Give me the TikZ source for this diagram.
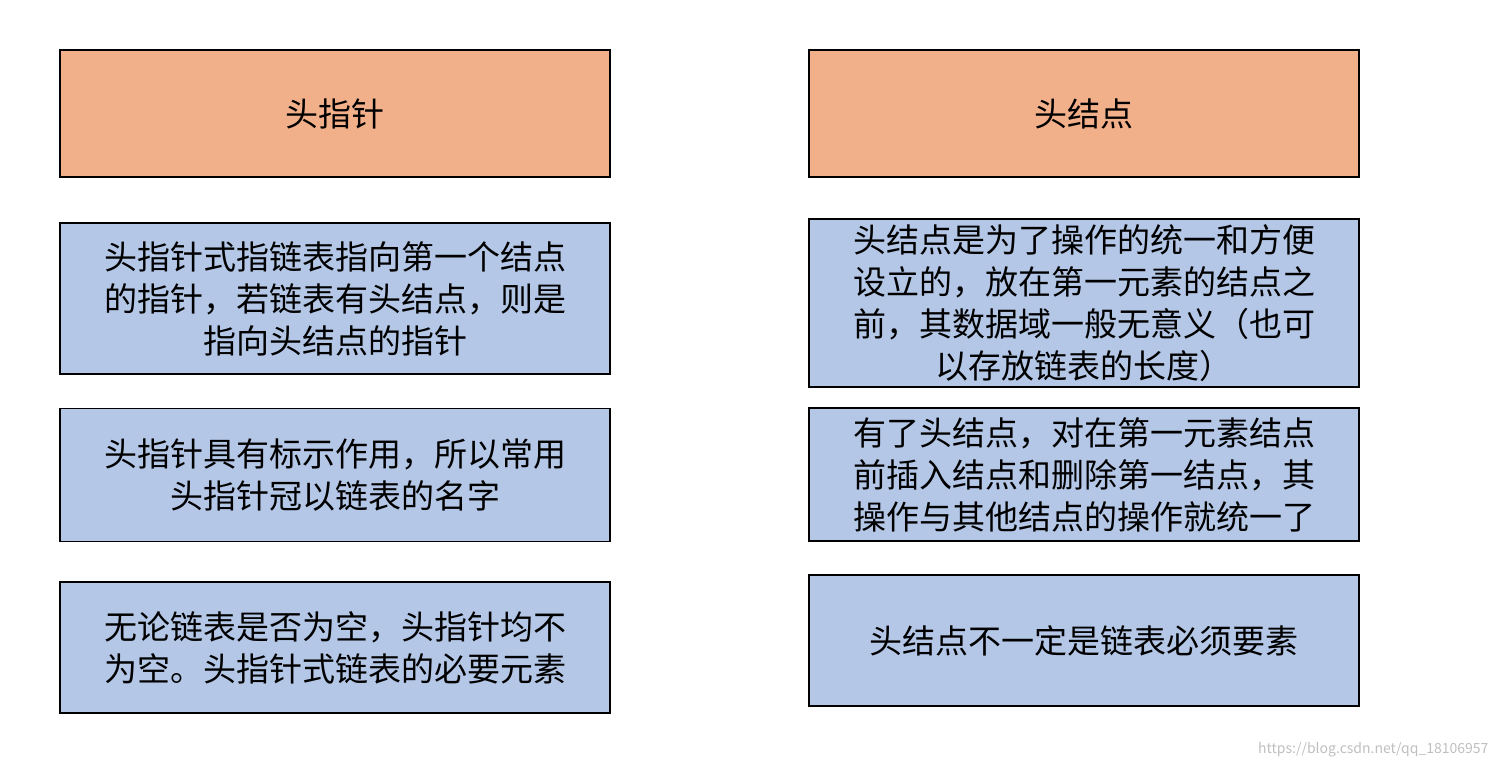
\documentclass[tikz,border=0pt]{standalone}
\usepackage{fontspec}
\setmainfont{Noto Sans CJK SC}
\begin{document}
\begin{tikzpicture}[x=1pt,y=-1pt,
 box/.style={draw=black,line width=1.3pt,minimum width=550pt,inner sep=0pt},
 hd/.style={box,fill={rgb,255:red,242;green,176;blue,138}},
 bd/.style={box,fill={rgb,255:red,180;green,199;blue,231}},
 tx/.style={font=\fontsize{33}{42}\selectfont,align=center}]
\useasboundingbox (0,0) rectangle (1498,768);
\node[hd,minimum height=127pt] (h1) at (335,113.5) {};
\node[tx] (h1t) at (h1) {头指针};
\node[hd,minimum height=127pt] (h2) at (1084,113.5) {};
\node[tx] (h2t) at (h2) {头结点};
\node[bd,minimum height=151pt] (l2) at (335,298.5) {};
\node[tx] (l2t) at (l2) {头指针式指链表指向第一个结点\\的指针，若链表有头结点，则是\\指向头结点的指针};
\node[bd,minimum height=133pt] (l3) at (335,475) {};
\node[tx] (l3t) at (l3) {头指针具有标示作用，所以常用\\头指针冠以链表的名字};
\node[bd,minimum height=131pt] (l4) at (335,647.5) {};
\node[tx] (l4t) at (l4) {无论链表是否为空，头指针均不\\为空。头指针式链表的必要元素};
\node[bd,minimum height=168pt] (r2) at (1084,303) {};
\node[tx] (r2t) at (1084,303) {头结点是为了操作的统一和方便\\设立的，放在第一元素的结点之\\前，其数据域一般无意义（也可\\以存放链表的长度）};
\node[bd,minimum height=133pt] (r3) at (1084,474.5) {};
\node[tx] (r3t) at (r3) {有了头结点，对在第一元素结点\\前插入结点和删除第一结点，其\\操作与其他结点的操作就统一了};
\node[bd,minimum height=131pt] (r4) at (1084,640.5) {};
\node[tx] (r4t) at (r4) {头结点不一定是链表必须要素};
\node[font=\fontsize{14}{16}\selectfont,text=black!25,anchor=east] (wm) at (1492,750) {https://blog.csdn.net/qq\_18106957};
\end{tikzpicture}
\end{document}
